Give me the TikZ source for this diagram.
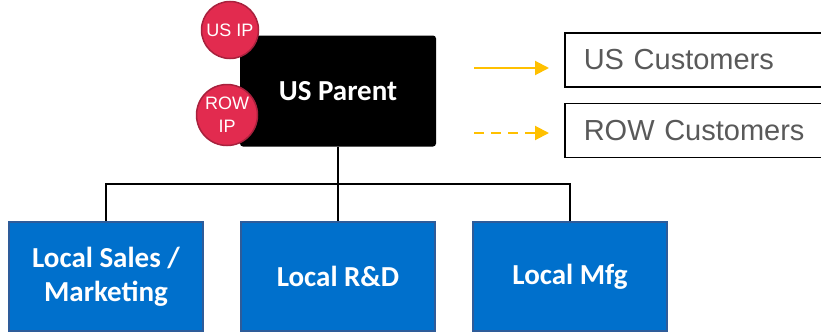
\documentclass[tikz,border=0pt]{standalone}
\usepackage{fontspec}
\setmainfont{Carlito}
\newfontfamily\arialfont{Liberation Sans}
\usetikzlibrary{arrows.meta}
\definecolor{unitblue}{HTML}{0070CC}
\definecolor{unitedge}{HTML}{2E5C9A}
\definecolor{ipred}{HTML}{E22B4F}
\definecolor{ipedge}{HTML}{A8213D}
\definecolor{flowgold}{HTML}{FFC000}
\definecolor{custgray}{HTML}{595959}

\begin{document}
\begin{tikzpicture}
        [x=1pt,y=-1pt,
         unit/.style={draw=unitedge,line width=1.5pt,fill=unitblue,text=white,align=center,
           font=\bfseries\fontsize{29}{34}\selectfont,minimum width=194pt,minimum height=109pt,inner sep=0},
         parentbox/.style={fill=black,rounded corners=3pt,text=white,
           font=\bfseries\fontsize{29}{34}\selectfont,minimum width=196pt,minimum height=111pt,inner sep=0},
         ipdisc/.style={draw=ipedge,line width=1.5pt,fill=ipred,shape=circle,text=white,align=center,
           font=\arialfont\fontsize{18}{23}\selectfont,inner sep=0},
         custbox/.style={draw=black,line width=1.5pt,anchor=west,text=custgray,align=left,
           font=\arialfont\fontsize{29}{32}\selectfont,text width=232pt,inner xsep=19pt,minimum height=54pt},
         flow/.style={draw=flowgold,line width=2pt,-{Triangle[length=14pt,width=14pt]}}]

        \useasboundingbox (0,0) rectangle (821,332);

        \node[parentbox] (parent) at (338,91) {US Parent};
        \node[ipdisc,minimum size=57pt] (usip) at (230,30) {US IP};
        \node[ipdisc,minimum size=61pt] (rowip) at (227,115) {ROW\\IP};

        \node[unit] (sales) at (106,276.5) {Local Sales /\\Marketing};
        \node[unit] (rnd) at (338,276.5) {Local R\&D};
        \node[unit] (mfg) at (570,276.5) {Local Mfg};

        \node[custbox] (uscust) at (564,60) {US Customers};
        \node[custbox] (rowcust) at (564,130.5) {ROW Customers};

        \coordinate (bus) at (338,184);
        \draw[line width=1.5pt] (parent.south) -- (bus) -| (sales.north);
        \draw[line width=1.5pt] (bus) -| (mfg.north);
        \draw[line width=1.5pt] (bus) -- (rnd.north);

        \coordinate (ustail) at (474,68);
        \coordinate (rowtail) at (474,133);
        \draw[flow] (ustail) -- ([xshift=-15pt]uscust.west |- ustail);
        \draw[flow,dash pattern=on 10pt off 7pt] (rowtail) -- ([xshift=-15pt]rowcust.west |- rowtail);

      \end{tikzpicture}
\end{document}
